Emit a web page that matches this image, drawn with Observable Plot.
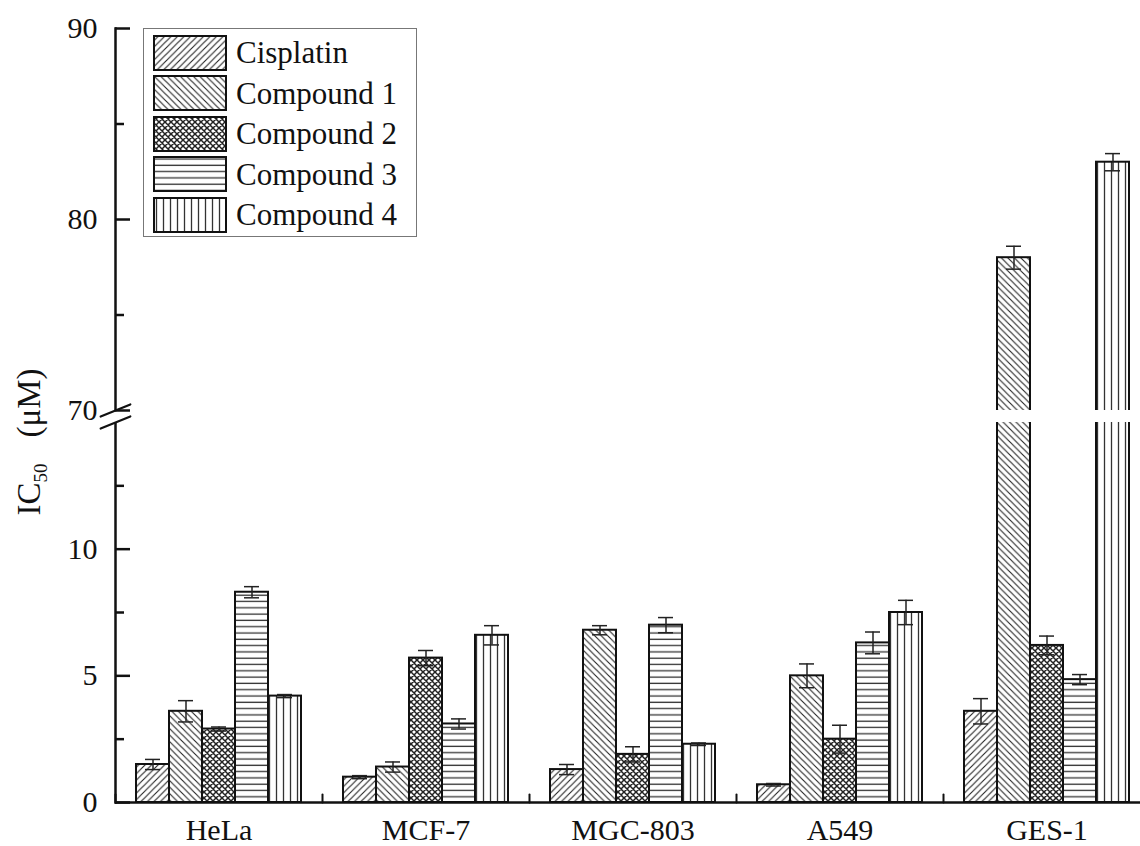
<!DOCTYPE html>
<html>
<head>
<meta charset="utf-8">
<script src="https://cdn.jsdelivr.net/npm/d3@7"></script>
<script src="https://cdn.jsdelivr.net/npm/@observablehq/plot@0.6"></script>
<style>
  body { margin: 0; background: #fff; }
  #wrap { position: relative; width: 1140px; height: 846px; overflow: hidden; font-family: 'Liberation Serif', 'Times New Roman', serif; color: #111; }
  #chart svg { display: block; }
  #legend { position: absolute; left: 143px; top: 28px; width: 274px; height: 209px; box-sizing: border-box; border: 1.5px solid #777; background: #fff; }
  .item { position: absolute; left: 9px; height: 35px; display: flex; align-items: center; }
  .item svg { display: block; }
  .item span { margin-left: 9px; font-family: 'Liberation Serif', 'Times New Roman', serif; font-size: 31px; line-height: 35px; white-space: nowrap; color: #111; }
  #ylabel { position: absolute; left: 31px; top: 442px; transform: translate(-50%, -50%) rotate(-90deg); font-family: 'Liberation Serif', 'Times New Roman', serif; font-size: 33px; white-space: nowrap; line-height: 1; }
  #ylabel sub { font-size: 19px; vertical-align: -7px; }
</style>
</head>
<body>
<svg width="0" height="0" style="position:absolute">
  <defs>
    <pattern id="pat0" patternUnits="userSpaceOnUse" width="6.5" height="6.5">
      <rect width="6.5" height="6.5" fill="#fff"/>
      <path d="M-1,1 L1,-1 M0,6.5 L6.5,0 M5.5,7.5 L7.5,5.5" stroke="#222" stroke-width="1.1"/>
    </pattern>
    <pattern id="pat1" patternUnits="userSpaceOnUse" width="6.5" height="6.5">
      <rect width="6.5" height="6.5" fill="#fff"/>
      <path d="M-1,5.5 L1,7.5 M0,0 L6.5,6.5 M5.5,-1 L7.5,1" stroke="#222" stroke-width="1.1"/>
    </pattern>
    <pattern id="pat2" patternUnits="userSpaceOnUse" width="6" height="6">
      <rect width="6" height="6" fill="#fff"/>
      <path d="M-1,1 L1,-1 M0,6 L6,0 M5,7 L7,5 M-1,5 L1,7 M0,0 L6,6 M5,-1 L7,1" stroke="#222" stroke-width="1.5"/>
    </pattern>
    <pattern id="pat3" patternUnits="userSpaceOnUse" width="6" height="6.3">
      <rect width="6" height="6.3" fill="#fff"/>
      <path d="M0,3 L6,3" stroke="#333" stroke-width="1.3"/>
    </pattern>
    <pattern id="pat4" patternUnits="userSpaceOnUse" width="7" height="6">
      <rect width="7" height="6" fill="#fff"/>
      <path d="M3.5,0 L3.5,6" stroke="#333" stroke-width="1.3"/>
    </pattern>
  </defs>
</svg>
<div id="wrap">
  <div id="chart"></div>
  <div id="ylabel">IC<sub>50</sub><span style="margin-left:26px">(μM)</span></div>
  <div id="legend"></div>
</div>
<script>
// ---- data ----
const cells = ["HeLa", "MCF-7", "MGC-803", "A549", "GES-1"];
const series = ["Cisplatin", "Compound 1", "Compound 2", "Compound 3", "Compound 4"];

const cisplatin  = [1.5, 1.0, 1.3, 0.7, 3.6];
const compound1  = [3.6, 1.4, 6.8, 5.0, 78.0];
const compound2  = [2.9, 5.7, 1.9, 2.5, 6.2];
const compound3  = [8.3, 3.1, 7.0, 6.3, 4.85];
const compound4  = [4.2, 6.6, 2.3, 7.5, 83.0];

const cisplatinErr = [0.2, 0.06, 0.2, 0.05, 0.5];
const compound1Err = [0.42, 0.2, 0.18, 0.47, 0.6];
const compound2Err = [0.08, 0.3, 0.3, 0.55, 0.37];
const compound3Err = [0.22, 0.2, 0.3, 0.43, 0.2];
const compound4Err = [0.06, 0.38, 0.05, 0.48, 0.45];

const yMajorTicks = [0, 5, 10, 70, 80, 90];
const yMinorTicks = [2.5, 7.5, 12.5, 75, 85];
const yBreak = [15, 70];   // lower segment ends at 15, upper segment starts at 70
const yMax = 90;

// ---- table built from the arrays ----
const valueSets = [cisplatin, compound1, compound2, compound3, compound4];
const errorSets = [cisplatinErr, compound1Err, compound2Err, compound3Err, compound4Err];
const rows = cells.flatMap((cell, i) =>
  series.map((s, j) => ({cell, series: s, value: valueSets[j][i], err: errorSets[j][i]})));

const patterns = series.map((_, i) => `url(#pat${i})`);
const lineShape = {draw(context, l) { context.moveTo(0, 0); context.lineTo(0, -l); }};

const chart = Plot.plot({
  width: 1140,
  height: 846,
  marginLeft: 115,
  marginRight: 0,
  marginTop: 28,
  marginBottom: 44,
  style: {fontFamily: "'Liberation Serif', 'Times New Roman', serif", fontSize: "30px", background: "#fff", color: "#111", overflow: "visible"},
  fx: {domain: cells, range: [115, 1150], padding: 0, axis: null},
  x: {domain: series, paddingInner: 0, paddingOuter: 0.6, axis: null},
  y: {type: "linear", domain: [0, yBreak[0], yBreak[1], yMax], range: [802, 422, 410, 28], axis: null},
  color: {domain: series, range: patterns},
  marks: [
    Plot.frame({anchor: "left", facetAnchor: "left", strokeWidth: 2.5, stroke: "#111"}),
    Plot.barY(rows, {fx: "cell", x: "series", y1: 0, y2: "value", fill: "series", stroke: "#111", strokeWidth: 2}),
    Plot.ruleX(rows, {fx: "cell", x: "series", y1: d => d.value - d.err, y2: d => d.value + d.err, stroke: "#222", strokeWidth: 1.5}),
    Plot.tickY(rows, {fx: "cell", x: "series", y: d => d.value - d.err, insetLeft: 9, insetRight: 9, stroke: "#222", strokeWidth: 1.5}),
    Plot.tickY(rows, {fx: "cell", x: "series", y: d => d.value + d.err, insetLeft: 9, insetRight: 9, stroke: "#222", strokeWidth: 1.5}),
    // axis break gap
    Plot.barY([0], {y1: yBreak[0], y2: yBreak[1], fill: "#fff", insetLeft: -6}),
    // baseline
    Plot.ruleY([0], {stroke: "#111", strokeWidth: 2.5}),
    // separators between groups
    Plot.vector([0], {frameAnchor: "bottom-left", length: 8, anchor: "start", shape: lineShape, stroke: "#111", strokeWidth: 2}),
    // y axis ticks
    Plot.axisY({ticks: yMajorTicks, tickSize: -15, fill: "none", stroke: "#111", strokeWidth: 2.5, label: null}),
    Plot.axisY({ticks: yMinorTicks, tickSize: -9, fill: "none", stroke: "#111", strokeWidth: 2.5, label: null}),
    Plot.axisY({ticks: yMajorTicks, tickSize: 0, tickPadding: 18, fontSize: 30, fill: "#111", label: null}),
    // break marks
    Plot.vector(yBreak, {y: d => d, frameAnchor: "left", facetAnchor: "left", length: 32, rotate: 68, anchor: "middle", shape: lineShape, stroke: "#111", strokeWidth: 2.2}),
    // category labels
    Plot.axisFx({anchor: "bottom", tickSize: 0, tickPadding: 16, fontSize: 30, fill: "#111", label: null})
  ]
});
document.getElementById("chart").appendChild(chart);

// legend
const legend = document.getElementById("legend");
series.forEach((s, i) => {
  const item = document.createElement("div");
  item.className = "item";
  item.style.top = (6 + i * 40.5) + "px";
  item.innerHTML = `<svg width="74" height="36"><rect x="1" y="1" width="72" height="34" fill="${patterns[i]}" stroke="#111" stroke-width="2"/></svg><span>${s}</span>`;
  legend.appendChild(item);
});
</script>
</body>
</html>
